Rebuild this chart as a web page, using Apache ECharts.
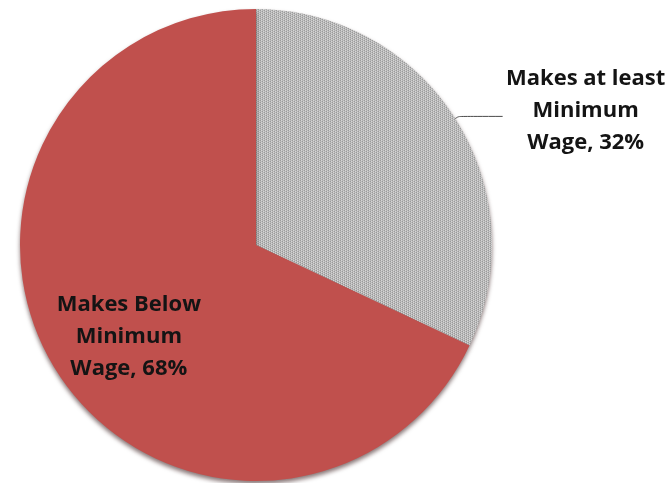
<!DOCTYPE html>
<html>
<head>
<meta charset="utf-8">
<script src="https://cdn.jsdelivr.net/npm/echarts@6/dist/echarts.min.js"></script>
<style>
  html, body { margin: 0; padding: 0; background: #ffffff; }
  #chart { width: 671px; height: 483px; }
</style>
</head>
<body>
<div id="chart"></div>
<script>
// Wage distribution shares
const categories = ['Makes at least\nMinimum\nWage', 'Makes Below\nMinimum\nWage'];
const shares = [32, 68];

// Fine grey stipple used for the smaller slice
function stipple() {
  const c = document.createElement('canvas');
  c.width = 4; c.height = 4;
  const g = c.getContext('2d');
  g.fillStyle = '#bababa';
  g.fillRect(0, 0, 4, 4);
  const dark = '#9a9a9a', light = '#d6d6d6';
  g.fillStyle = dark;
  g.fillRect(0, 0, 1, 1); g.fillRect(2, 1, 1, 1); g.fillRect(0, 2, 1, 1); g.fillRect(2, 3, 1, 1);
  g.fillStyle = light;
  g.fillRect(1, 0, 1, 1); g.fillRect(3, 1, 1, 1); g.fillRect(1, 2, 1, 1); g.fillRect(3, 3, 1, 1);
  return c;
}

const labelFont = {
  fontFamily: '"Open Sans", Lato, sans-serif',
  fontWeight: 700,
  fontSize: 22,
  color: '#141414',
  lineHeight: 32
};

const chart = echarts.init(document.getElementById('chart'), null, { renderer: 'canvas' });

chart.setOption({
  animation: false,
  backgroundColor: '#ffffff',
  series: [{
    type: 'pie',
    center: [256, 245],
    radius: 236,
    startAngle: 90,
    clockwise: true,
    avoidLabelOverlap: false,
    itemStyle: {
      shadowColor: 'rgba(40, 10, 10, 0.55)',
      shadowBlur: 4,
      shadowOffsetY: 3
    },
    data: [
      {
        name: categories[0],
        value: shares[0],
        itemStyle: { color: { image: stipple(), repeat: 'repeat' } },
        label: {
          position: 'outside',
          offset: [-3, -6],
          formatter: p => `{t|${p.name}, ${p.percent}%}`,
          rich: { t: Object.assign({ width: 162, align: 'center' }, labelFont) }
        },
        labelLine: {
          show: true,
          length: 4,
          length2: 44,
          smooth: 0.3,
          lineStyle: { color: '#4a4a4a', width: 1 }
        }
      },
      {
        name: categories[1],
        value: shares[1],
        itemStyle: { color: '#c0504d' },
        label: {
          position: 'inside',
          offset: [-25, 27],
          formatter: p => `{t|${p.name}, ${p.percent}%}`,
          rich: { t: Object.assign({ width: 170, align: 'center' }, labelFont) }
        },
        labelLine: { show: false }
      }
    ]
  }]
});
</script>
</body>
</html>
